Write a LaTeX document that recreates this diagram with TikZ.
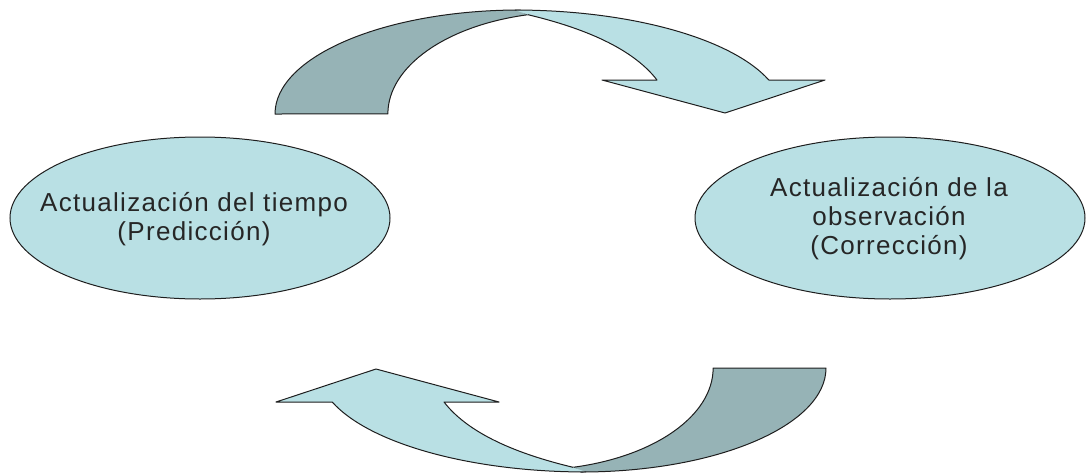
\documentclass[tikz,border=0pt]{standalone}
\usepackage{fontspec}
\setmainfont{Liberation Sans}
\newfontfamily\capfont[LetterSpace=5]{Liberation Sans}
\usetikzlibrary{shapes.geometric}
\definecolor{bandlight}{RGB}{185,224,228}
\definecolor{banddark}{RGB}{150,179,182}
\definecolor{edgegray}{RGB}{30,30,30}

% One twisted ribbon arrow: the dark back of the band, then the light front with its head
\newcommand\ribbonarrow{%
  \filldraw[back] (275,114)
    arc[start angle=180, end angle=270, x radius=245, y radius=104]
    -- (528,14.7)
    arc[start angle=256.7, end angle=180, x radius=182, y radius=102]
    -- cycle;
  \filldraw[front] (528,14.7)
    .. controls (575,26) and (630,45) .. (657,80)
    -- (602,80) -- (725,113) -- (825,80) -- (768.8,80)
    arc[start angle=340.9, end angle=270, x radius=268.6, y radius=104];
}

\begin{document}
\begin{tikzpicture}[x=1pt, y=-1pt,
  stage/.style={ellipse, draw=edgegray, line width=1pt, fill=bandlight,
    minimum width=380pt, minimum height=162pt, inner sep=0pt},
  caption/.style={align=center, text=black!85,
    font=\capfont\fontsize{26}{29}\selectfont},
  back/.style={fill=banddark, draw=edgegray, line width=1pt, line join=round},
  front/.style={fill=bandlight, draw=edgegray, line width=1pt, line join=round}]
  \useasboundingbox (0,0) rectangle (1087,474);

  % the two stages of the cycle
  \node[stage] (pred) at (200,218) {};
  \node[stage, minimum width=390pt] (corr) at (890,218) {};
  \node[caption] (predtext) at (194,219) {Actualización del tiempo\\(Predicción)};
  \node[caption] (corrtext) at (889,218.5) {Actualización de la\\observación\\(Corrección)};

  % upper arrow: prediction -> correction
  \ribbonarrow
  % lower arrow: correction -> prediction (same ribbon turned half round)
  \begin{scope}[rotate around={180:(550.5,241)}]
    \ribbonarrow
  \end{scope}
\end{tikzpicture}
\end{document}
